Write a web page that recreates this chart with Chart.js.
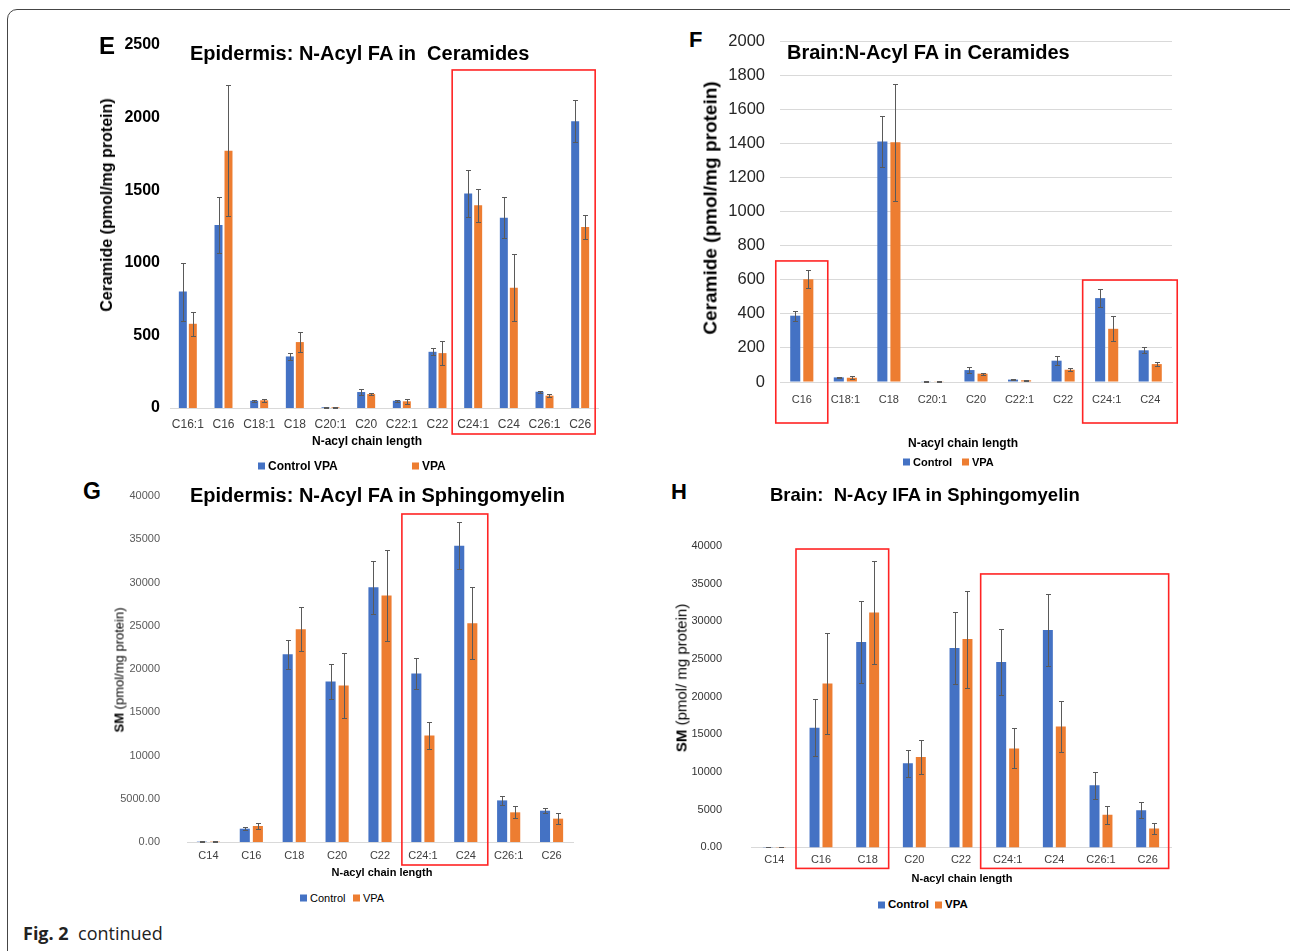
<!DOCTYPE html>
<html>
<head>
<meta charset="utf-8">
<script src="https://cdn.jsdelivr.net/npm/chart.js@4.4.1/dist/chart.umd.min.js"></script>
<style>
  html, body { margin: 0; padding: 0; background: #fff; }
  #page { position: relative; width: 1290px; height: 951px; overflow: hidden; font-family: "Liberation Sans", Arial, sans-serif; }
  #frame { position: absolute; left: 7px; top: 9px; width: 1310px; height: 970px; border: 1.3px solid #454545; border-radius: 10px; }
  canvas { position: absolute; }
  .t { position: absolute; white-space: pre; line-height: 1; color: #000; }
  .c { transform: translate(-50%, -50%); }
  .l { transform: translateY(-50%); }
  .v { transform: translate(-50%, -50%) rotate(-90deg); }
  .sq { position: absolute; width: 7px; height: 7px; transform: translateY(-50%); }
  #cap { position: absolute; left: 23px; top: 921px; font-family: "Open Sans", sans-serif; font-size: 18px; color: #222; white-space: pre; }
</style>
</head>
<body>
<div id="page">
  <div id="frame"></div>
  <canvas id="cE"></canvas>
  <canvas id="cF"></canvas>
  <canvas id="cG"></canvas>
  <canvas id="cH"></canvas>
  <div id="txt"></div>
  <div id="cap"><b>Fig. 2</b>  continued</div>
</div>
<script>
// ---- data: E  Epidermis ceramides ----
var eCats = ['C16:1', 'C16', 'C18:1', 'C18', 'C20:1', 'C20', 'C22:1', 'C22', 'C24:1', 'C24', 'C26:1', 'C26'];
var eControl    = [802, 1260, 50, 355, 5, 110, 50, 387, 1478, 1310, 112, 1975];
var eControlErr = [200, 190, 8, 23, 2, 20, 7, 23, 160, 140, 7, 144];
var eVpa        = [580, 1771, 53, 454, 5, 96, 46, 378, 1397, 829, 85, 1246];
var eVpaErr     = [84, 451, 11, 68, 2, 7, 16, 85, 113, 229, 9, 83];

// ---- data: F  Brain ceramides ----
var fCats = ['C16', 'C18:1', 'C18', 'C20:1', 'C20', 'C22:1', 'C22', 'C24:1', 'C24'];
var fControl    = [389, 27, 1410, 2, 70, 14, 125, 492, 186];
var fControlErr = [29, 4, 149, 1, 16, 2, 25, 55, 17];
var fVpa        = [603, 25, 1406, 2, 49, 10, 72, 312, 105];
var fVpaErr     = [53, 8, 342, 1, 6, 2, 8, 73, 10];

// ---- data: G  Epidermis sphingomyelin ----
var gCats = ['C14', 'C16', 'C18', 'C20', 'C22', 'C24:1', 'C24', 'C26:1', 'C26'];
var gControl    = [40, 1540, 21700, 18550, 29450, 19480, 34260, 4810, 3620];
var gControlErr = [20, 190, 1650, 2000, 3040, 1810, 2700, 540, 310];
var gVpa        = [40, 1850, 24600, 18090, 28490, 12320, 25290, 3430, 2700];
var gVpaErr     = [20, 310, 2540, 3735, 5310, 1540, 4160, 690, 650];

// ---- data: H  Brain sphingomyelin ----
var hCats = ['C14', 'C16', 'C18', 'C20', 'C22', 'C24:1', 'C24', 'C26:1', 'C26'];
var hControl    = [50, 15880, 27250, 11160, 26460, 24610, 28840, 8250, 4940];
var hControlErr = [20, 3750, 5470, 1810, 4760, 4410, 4760, 1810, 1020];
var hVpa        = [50, 21740, 31180, 12000, 27650, 13140, 16050, 4320, 2510];
var hVpaErr     = [20, 6660, 6880, 2200, 6440, 2650, 3400, 1190, 700];

var BLUE = '#4472C4', ORANGE = '#ED7D31', RED = '#ff2424';
var PAD_T = 40, PAD_R = 12;   // PAD_T must exceed tick padding + half label height
var FONT = '"Liberation Sans", Arial, sans-serif';

// error bars, drawn on the y scale of each chart
var errorBars = {
  id: 'errorBars',
  afterDatasetsDraw: function (chart) {
    var ctx = chart.ctx, y = chart.scales.y;
    ctx.save();
    ctx.strokeStyle = '#5a5a5a'; ctx.lineWidth = 1;
    chart.data.datasets.forEach(function (ds, i) {
      chart.getDatasetMeta(i).data.forEach(function (bar, j) {
        var v = ds.data[j], e = ds.err[j];
        var x = Math.round(bar.x) + 0.5;
        var t = Math.round(y.getPixelForValue(v + e)) + 0.5;
        var b = Math.round(y.getPixelForValue(Math.max(0, v - e))) + 0.5;
        ctx.beginPath();
        ctx.moveTo(x, t); ctx.lineTo(x, b);
        ctx.moveTo(x - 2.5, t); ctx.lineTo(x + 2.5, t);
        ctx.moveTo(x - 2.5, b); ctx.lineTo(x + 2.5, b);
        ctx.stroke();
      });
    });
    ctx.restore();
  }
};

// red highlight rectangles around groups of categories
function boxPlugin(boxes) {
  return {
    id: 'redBoxes',
    afterDraw: function (chart) {
      var xs = chart.scales.x, ys = chart.scales.y, ctx = chart.ctx;
      ctx.save();
      ctx.strokeStyle = RED; ctx.lineWidth = 1.6;
      boxes.forEach(function (b) {
        var l = xs.getPixelForValue(b.from) - b.padL;
        var r = xs.getPixelForValue(b.to) + b.padR;
        var t = ys.getPixelForValue(b.top);
        var btm = ys.bottom + b.below;
        ctx.strokeRect(l, t, r - l, btm - t);
      });
      ctx.restore();
    }
  };
}

function panel(id, o) {
  var cv = document.getElementById(id);
  var w = o.wy + (o.area[1] - o.area[0]) + PAD_R;
  var h = PAD_T + (o.area[3] - o.area[2]) + o.hx;
  cv.width = w; cv.height = h;
  cv.style.left = (o.area[0] - o.wy) + 'px';
  cv.style.top = (o.area[2] - PAD_T) + 'px';
  cv.style.width = w + 'px'; cv.style.height = h + 'px';
  new Chart(cv, {
    type: 'bar',
    data: {
      labels: o.cats,
      datasets: [
        { label: 'Control', data: o.control, err: o.controlErr, backgroundColor: BLUE },
        { label: 'VPA', data: o.vpa, err: o.vpaErr, backgroundColor: ORANGE }
      ]
    },
    options: {
      responsive: false, animation: false, devicePixelRatio: 1,
      layout: { padding: { top: PAD_T, right: PAD_R, bottom: 0, left: 0 } },
      plugins: { legend: { display: false }, tooltip: { enabled: false } },
      datasets: { bar: { categoryPercentage: o.catPct, barPercentage: o.barPct } },
      scales: {
        x: {
          grid: { display: false, drawTicks: false },
          border: { display: true, color: '#d9d9d9', width: 1 },
          ticks: { font: { family: FONT, size: o.xSize }, color: '#404040', padding: o.xPad, maxRotation: 0, autoSkip: false },
          afterFit: function (s) { s.height = o.hx; }
        },
        y: {
          min: 0, max: o.max,
          grid: { display: o.grid, color: '#d9d9d9', drawTicks: false },
          border: { display: false },
          ticks: { stepSize: o.step, font: o.yFont, color: o.yColor, padding: o.yPad, callback: o.fmt },
          afterFit: function (s) { s.width = o.wy; }
        }
      }
    },
    plugins: [errorBars, boxPlugin(o.boxes)]
  });
}

panel('cE', {
  cats: eCats, control: eControl, controlErr: eControlErr, vpa: eVpa, vpaErr: eVpaErr,
  area: [170, 598, 45, 408], wy: 60, hx: 40, max: 2500, step: 500, grid: false,
  yFont: { family: FONT, size: 16, weight: 'bold' }, yColor: '#000', yPad: 10,
  fmt: function (v) { return String(v); },
  xSize: 12, xPad: 9, catPct: 0.56, barPct: 0.8,
  boxes: [{ from: 8, to: 11, padL: 21, padR: 15, top: 2328, below: 26 }]
});
panel('cF', {
  cats: fCats, control: fControl, controlErr: fControlErr, vpa: fVpa, vpaErr: fVpaErr,
  area: [780, 1172, 41, 382], wy: 60, hx: 50, max: 2000, step: 200, grid: true,
  yFont: { family: FONT, size: 16.5 }, yColor: '#262626', yPad: 15,
  fmt: function (v) { return String(v); },
  xSize: 11, xPad: 11, catPct: 0.6, barPct: 0.77,
  boxes: [{ from: 0, to: 0, padL: 26, padR: 26, top: 710, below: 41 },
          { from: 7, to: 8, padL: 24, padR: 27, top: 598, below: 41 }]
});
panel('cG', {
  cats: gCats, control: gControl, controlErr: gControlErr, vpa: gVpa, vpaErr: gVpaErr,
  area: [187, 573, 496, 842], wy: 70, hx: 35, max: 40000, step: 5000, grid: false,
  yFont: { family: FONT, size: 11 }, yColor: '#595959', yPad: 27,
  fmt: function (v) { return v === 0 ? '0.00' : (v === 5000 ? '5000.00' : String(v)); },
  xSize: 11, xPad: 7, catPct: 0.61, barPct: 0.77,
  boxes: [{ from: 5, to: 6, padL: 21, padR: 22, top: 37920, below: 23 }]
});
panel('cH', {
  cats: hCats, control: hControl, controlErr: hControlErr, vpa: hVpa, vpaErr: hVpaErr,
  area: [751, 1171, 546, 848], wy: 70, hx: 35, max: 40000, step: 5000, grid: false,
  yFont: { family: FONT, size: 11 }, yColor: '#333', yPad: 29,
  fmt: function (v) { return v === 0 ? '0.00' : String(v); },
  xSize: 11, xPad: 6, catPct: 0.555, barPct: 0.77,
  boxes: [{ from: 1, to: 2, padL: 25, padR: 21, top: 39600, below: 21 },
          { from: 5, to: 8, padL: 27, padR: 21, top: 36290, below: 21 }]
});

// ---- text: letters, titles, axis titles, legends ----
var html = [];
function txt(cls, x, y, size, weight, s) {
  html.push('<div class="t ' + cls + '" style="left:' + x + 'px;top:' + y + 'px;font-size:' + size + 'px;font-weight:' + weight + '">' + s + '</div>');
}
function legend(x1, x2, y, size, weight, l1) {
  html.push('<div class="sq" style="left:' + x1 + 'px;top:' + y + 'px;background:' + BLUE + '"></div>');
  html.push('<div class="sq" style="left:' + x2 + 'px;top:' + y + 'px;background:' + ORANGE + '"></div>');
  txt('l', x1 + 10, y, size, weight, l1);
  txt('l', x2 + 10, y, size, weight, 'VPA');
}
// panel letters
txt('l', 99, 46, 24, 'bold', 'E');
txt('l', 689, 40, 22, 'bold', 'F');
txt('l', 83, 491, 23, 'bold', 'G');
txt('l', 671, 492, 22, 'bold', 'H');
// titles
txt('l', 190, 53, 20, 'bold', 'Epidermis: N-Acyl FA in  Ceramides');
txt('l', 787, 52, 20, 'bold', 'Brain:N-Acyl FA in Ceramides');
txt('l', 190, 495, 20, 'bold', 'Epidermis: N-Acyl FA in Sphingomyelin');
txt('l', 770, 495, 18.5, 'bold', 'Brain:  N-Acy IFA in Sphingomyelin');
// y axis titles
txt('v', 107, 205, 16, 'bold', 'Ceramide (pmol/mg protein)');
txt('v', 710, 208, 19, 'bold', 'Ceramide (pmol/mg protein)');
txt('v', 119, 670, 13, 'normal', '<b>SM</b> (pmol/mg protein)');
txt('v', 681, 678, 15, 'normal', '<b>SM</b> (pmol/ mg protein)');
// x axis titles
txt('c', 367, 441, 12, 'bold', 'N-acyl chain length');
txt('c', 963, 443, 12, 'bold', 'N-acyl chain length');
txt('c', 382, 872, 11, 'bold', 'N-acyl chain length');
txt('c', 962, 878, 11, 'bold', 'N-acyl chain length');
// legends
legend(258, 412, 466, 12, 'bold', 'Control VPA');
legend(903, 962, 462, 11, 'bold', 'Control');
legend(300, 353, 898, 11, 'normal', 'Control');
legend(878, 935, 905, 11.5, 'bold', 'Control');
document.getElementById('txt').innerHTML = html.join('');
</script>
</body>
</html>
